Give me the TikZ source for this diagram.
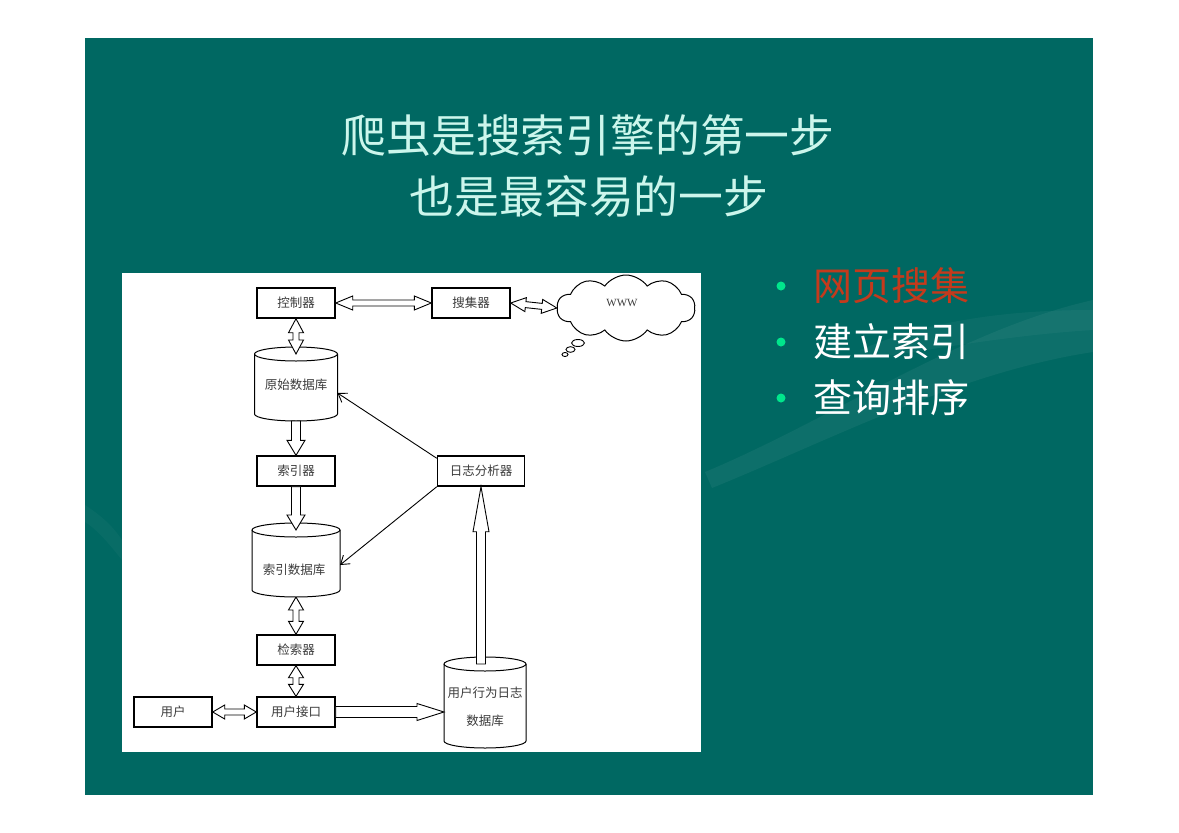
\documentclass[tikz,border=0pt]{standalone}
\usepackage{fontspec}
\setmainfont{Liberation Serif}
\newfontfamily\cjk{Noto Sans CJK SC}
\usetikzlibrary{calc,shapes.symbols,arrows.meta}

\definecolor{slide}{RGB}{0,104,98}
\definecolor{titlecol}{RGB}{204,246,236}
\definecolor{dotcol}{RGB}{0,230,140}
\definecolor{redtext}{RGB}{196,58,28}
\definecolor{dtext}{RGB}{60,60,60}

\tikzset{
  box/.style={draw=black, line width=1.4pt, fill=white, minimum width=78pt,
    minimum height=30pt, inner sep=0pt, text=dtext,
    font=\cjk\fontsize{12.5}{14}\selectfont},
  cylnode/.style={inner sep=0pt, outer sep=0pt},
  cylline/.style={draw=black, line width=1pt, fill=white},
  cyltext/.style={inner sep=0pt, text=dtext, font=\cjk\fontsize{12.5}{14}\selectfont},
  harrow/.style={draw=black, line width=0.9pt, fill=white, line join=miter},
  thinarr/.style={draw=black, line width=0.9pt, -{Straight Barb[length=8pt,width=11pt]}},
  titlestyle/.style={inner sep=0pt, text=titlecol, font=\cjk\fontsize{44.8}{48}\selectfont},
  bdot/.style={circle, fill=dotcol, minimum size=9pt, inner sep=0pt},
  btext/.style={inner sep=0pt, anchor=west, font=\cjk\fontsize{39}{42}\selectfont}
}

% hollow block arrows: start, end, shaft half width, head half width, head length
\newcommand\sglarrow[5]{%
  \filldraw[harrow] ($(#1)!#3!90:(#2)$) -- ($(#2)!#5!(#1)!#3!90:(#2)$)
    -- ($(#2)!#5!(#1)!#4!90:(#2)$) -- (#2) -- ($(#2)!#5!(#1)!#4!-90:(#2)$)
    -- ($(#2)!#5!(#1)!#3!-90:(#2)$) -- ($(#1)!#3!-90:(#2)$) -- cycle;}
\newcommand\dblarrow[5]{%
  \filldraw[harrow] (#1) -- ($(#1)!#5!(#2)!#4!90:(#2)$) -- ($(#1)!#5!(#2)!#3!90:(#2)$)
    -- ($(#2)!#5!(#1)!#3!90:(#2)$) -- ($(#2)!#5!(#1)!#4!90:(#2)$) -- (#2)
    -- ($(#2)!#5!(#1)!#4!-90:(#2)$) -- ($(#2)!#5!(#1)!#3!-90:(#2)$)
    -- ($(#1)!#5!(#2)!#3!-90:(#2)$) -- ($(#1)!#5!(#2)!#4!-90:(#2)$) -- cycle;}
% cylinder outline around a node: name, half width, ellipse y radius
\newcommand\cyl[3]{%
  \filldraw[cylline] (#1.north west) -- (#1.south west)
    arc[start angle=180, end angle=360, x radius=#2, y radius=#3]
    -- (#1.north east) arc[start angle=0, end angle=180, x radius=#2, y radius=#3] -- cycle;
  \draw[cylline, fill=none] (#1.north west)
    arc[start angle=180, end angle=360, x radius=#2, y radius=#3];}

\begin{document}
\begin{tikzpicture}[x=1pt, y=-1pt]
\useasboundingbox (0,0) rectangle (1179,833);
\fill[white] (0,0) rectangle (1179,833);
% slide background
\fill[slide] (85,38) rectangle (1093,795);
% faint swooshes
\fill[white, opacity=0.05] (705,472) .. controls (830,420) and (960,330) .. (1093,300)
  -- (1093,352) .. controls (960,372) and (830,440) .. (712,488) -- cycle;
\fill[white, opacity=0.04] (860,350) .. controls (930,320) and (1010,310) .. (1093,310)
  -- (1093,330) .. controls (1010,335) and (930,350) .. (860,360) -- cycle;
\fill[white, opacity=0.03] (85,505) .. controls (100,515) and (112,525) .. (122,540)
  -- (122,560) .. controls (110,545) and (98,530) .. (85,522) -- cycle;

% title
\node[titlestyle] (t1) at (588,135.5) {爬虫是搜索引擎的第一步};
\node[titlestyle] (t2) at (589,196.5) {也是最容易的一步};

% bullets
\node[bdot] (d1) at (781,286) {};
\node[bdot] (d2) at (781,342) {};
\node[bdot] (d3) at (781,398) {};
\node[btext, text=redtext] (b1) at (813,286) {网页搜集};
\node[btext, text=white] (b2) at (813,342) {建立索引};
\node[btext, text=white] (b3) at (813,398) {查询排序};

% diagram panel
\fill[white] (122,273) rectangle (701,752);

% nodes
\node[box] (kz) at (296,303) {控制器};
\node[box] (sj) at (471,303) {搜集器};
\node[cloud, draw=black, line width=1pt, fill=white, cloud puffs=10, cloud puff arc=110,
  aspect=2.1, minimum width=138pt, minimum height=66pt, inner sep=0pt] (www) at (626,308) {};
\node[inner sep=0pt, text=dtext, font=\fontsize{11}{12}\selectfont] (wwwt) at (622,303) {WWW};
\draw[black, line width=0.9pt, fill=white] (578,343) ellipse [x radius=6.5pt, y radius=3.5pt];
\draw[black, line width=0.9pt, fill=white] (570.5,349.5) ellipse [x radius=4.5pt, y radius=2.8pt];
\draw[black, line width=0.9pt, fill=white] (565,354.5) ellipse [x radius=3pt, y radius=2pt];

\node[cylnode, minimum width=83pt, minimum height=60pt] (ysk) at (296,384) {};
\cyl{ysk}{41.5pt}{7pt}
\node[cyltext] (ysktx) at (296,385) {原始数据库};

\node[box] (syq) at (296,471) {索引器};
\node[box, minimum width=87pt] (rz) at (481,471) {日志分析器};

\node[cylnode, minimum width=88pt, minimum height=60pt] (syk) at (296,560) {};
\cyl{syk}{44pt}{7pt}
\node[cyltext] (syktx) at (294,570) {索引数据库};

\node[box] (jsq) at (296,650) {检索器};
\node[box] (yhjk) at (296,712) {用户接口};
\node[box] (yh) at (173,712) {用户};

\node[cylnode, minimum width=82pt, minimum height=77pt] (yhxw) at (485,702.5) {};
\cyl{yhxw}{41pt}{7pt}
\node[cyltext] (yhxwt1) at (485,693) {用户行为日志};
\node[cyltext] (yhxwt2) at (485,721) {数据库};

% hollow arrows
\dblarrow{kz.east}{sj.west}{3pt}{7pt}{17pt}
\dblarrow{sj.east}{www.west}{3pt}{7pt}{15pt}
\dblarrow{kz.south}{ysk.north}{3pt}{7.5pt}{14pt}
\coordinate (yskb) at ([yshift=-7pt]ysk.south);
\sglarrow{yskb}{syq.north}{4.5pt}{9pt}{15pt}
\sglarrow{syq.south}{syk.north}{4.5pt}{9pt}{15pt}
\coordinate (sykb) at ([yshift=-7pt]syk.south);
\dblarrow{sykb}{jsq.north}{3pt}{7.5pt}{13pt}
\dblarrow{jsq.south}{yhjk.north}{3pt}{7.5pt}{12pt}
\dblarrow{yh.east}{yhjk.west}{3pt}{7pt}{12pt}
\coordinate (yhxwin) at (yhxw.west |- yhjk.east);
\sglarrow{yhjk.east}{yhxwin}{5.5pt}{8.5pt}{27pt}
\coordinate (yhxwtop) at (rz.south |- yhxw.north);
\sglarrow{yhxwtop}{rz.south}{4.5pt}{8pt}{45pt}

% thin arrows from log analyser
\coordinate (rza) at ([yshift=-3pt]rz.north west);
\coordinate (ysktg) at ([yshift=-9pt]ysk.east);
\coordinate (syktg) at ([yshift=-5pt]syk.east);
\draw[thinarr] (rza) -- (ysktg);
\draw[thinarr] (rz.south west) -- (syktg);
\end{tikzpicture}
\end{document}
